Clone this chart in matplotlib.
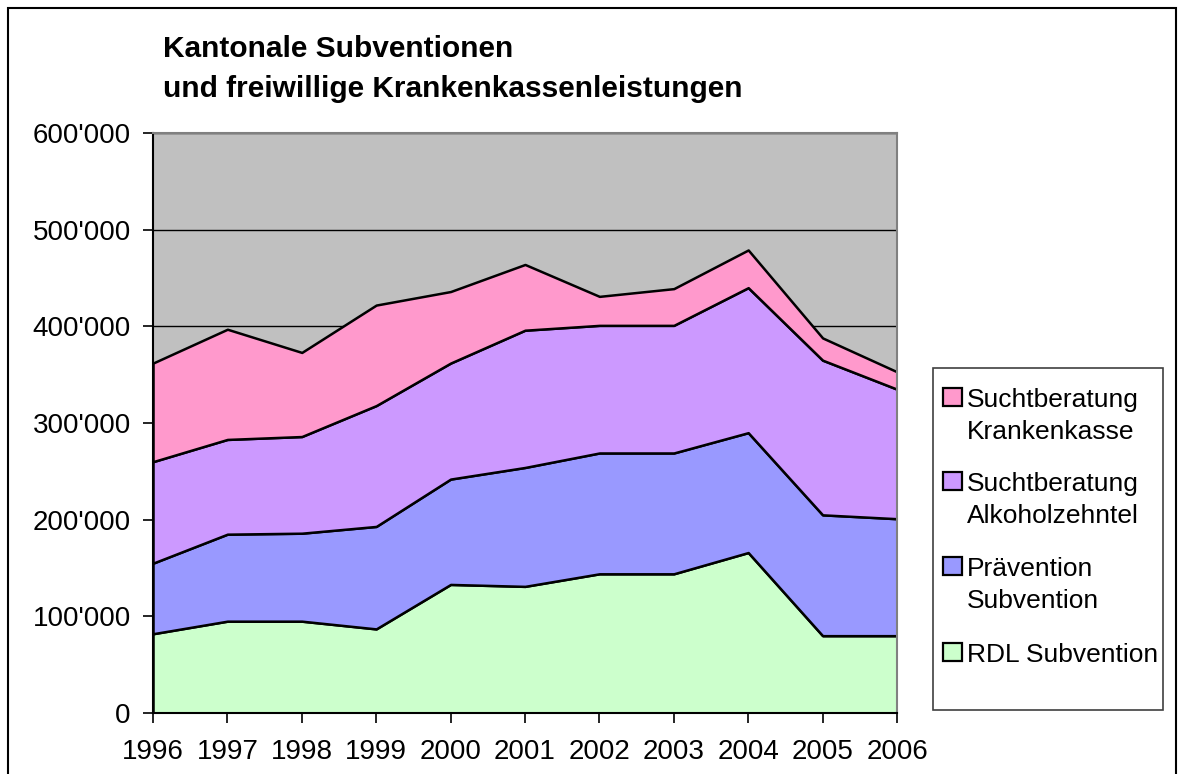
import matplotlib
matplotlib.use("Agg")
import matplotlib.pyplot as plt
from matplotlib.patches import Rectangle
from matplotlib.ticker import FuncFormatter, MultipleLocator

plt.rcParams['font.family'] = ['Liberation Sans', 'DejaVu Sans']

years = [1996, 1997, 1998, 1999, 2000, 2001, 2002, 2003, 2004, 2005, 2006]
rdl_subvention = [82000, 95000, 95000, 87000, 133000, 131000, 144000, 144000, 166000, 80000, 80000]
praevention_subvention = [73000, 90000, 91000, 106000, 109000, 123000, 125000, 125000, 124000, 125000, 121000]
sucht_alkoholzehntel = [105000, 98000, 100000, 125000, 120000, 142000, 132000, 132000, 150000, 160000, 134000]
sucht_krankenkasse = [102000, 114000, 87000, 104000, 74000, 68000, 30000, 38000, 39000, 23000, 18000]

series_labels = ["RDL Subvention", "Prävention\nSubvention",
                 "Suchtberatung\nAlkoholzehntel", "Suchtberatung\nKrankenkasse"]
colors = ["#CCFFCC", "#9999FF", "#CC99FF", "#FF99CC"]
title_lines = ["Kantonale Subventionen", "und freiwillige Krankenkassenleistungen"]

W, H = 1181, 774
fig = plt.figure(figsize=(W / 100, H / 100), dpi=100)


def fx(px):
    return px / W


def fy(py):
    return 1 - py / H


ax = fig.add_axes([fx(153), fy(713), fx(897 - 153), (713 - 133) / H])
ax.set_facecolor("#C0C0C0")

ax.stackplot(years, rdl_subvention, praevention_subvention, sucht_alkoholzehntel,
             sucht_krankenkasse, colors=colors, edgecolor="black", linewidth=1.8,
             zorder=2)

ax.set_xlim(years[0], years[-1])
ax.set_ylim(0, 600000)
ax.yaxis.set_major_locator(MultipleLocator(100000))
ax.yaxis.set_major_formatter(FuncFormatter(
    lambda v, p: "0" if v == 0 else f"{int(v):,}".replace(",", "'")))
ax.set_xticks(years)
ax.set_xticklabels([str(y) for y in years])
ax.grid(axis="y", color="black", linewidth=1.0, zorder=1)
ax.set_axisbelow(True)
ax.tick_params(axis="both", labelsize=20, direction="out", length=7, width=1.2,
               color="black")
ax.tick_params(axis="y", pad=9)
ax.tick_params(axis="x", pad=12)
for side in ["left", "bottom"]:
    ax.spines[side].set_color("black")
    ax.spines[side].set_linewidth(1.5)
for side in ["top", "right"]:
    ax.spines[side].set_color("#808080")
    ax.spines[side].set_linewidth(1.5)
ax.spines["bottom"].set_zorder(5)

# title
fig.text(fx(163), fy(57), title_lines[0], fontsize=21.5, fontweight="bold",
         ha="left", va="baseline")
fig.text(fx(163), fy(97), title_lines[1], fontsize=21.5, fontweight="bold",
         ha="left", va="baseline")

# legend (drawn manually to match layout)
fig.patches.append(Rectangle((fx(933), fy(710)), fx(1163 - 933), (710 - 368) / H,
                             transform=fig.transFigure, facecolor="white",
                             edgecolor="#404040", linewidth=1.2, zorder=3))
entry_baselines = [407, 491, 576, 662]
for i, (lab, col) in enumerate(zip(series_labels[::-1], colors[::-1])):
    b = entry_baselines[i]
    fig.patches.append(Rectangle((fx(943), fy(b - 1)), fx(19), 18 / H,
                                 transform=fig.transFigure, facecolor=col,
                                 edgecolor="black", linewidth=1.6, zorder=4))
    for j, line in enumerate(lab.split("\n")):
        fig.text(fx(967), fy(b + 32 * j), line, fontsize=19, ha="left",
                 va="baseline", zorder=4)

fig.patches.append(Rectangle((fx(8), -0.05), fx(1176 - 8), fy(8) + 0.05,
                             transform=fig.transFigure, fill=False,
                             edgecolor="black", linewidth=1.5))

fig.savefig("out.png", dpi=100)
